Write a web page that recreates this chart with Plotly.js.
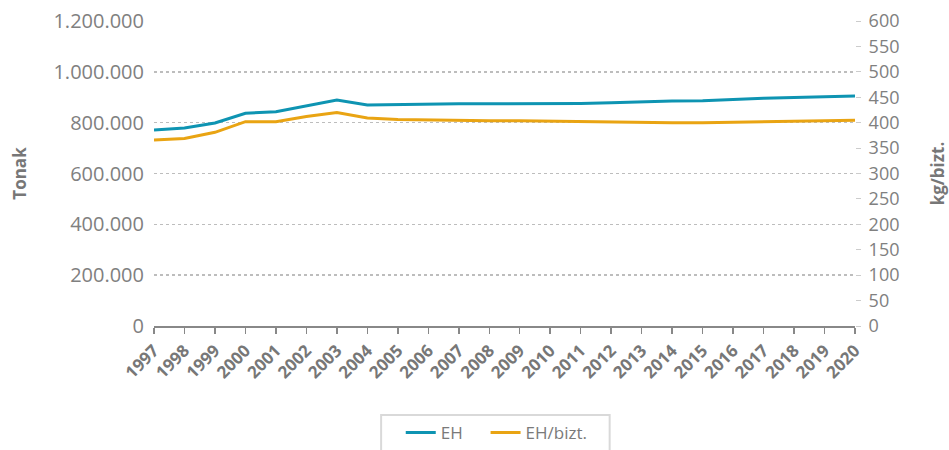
<!DOCTYPE html>
<html>
<head>
<meta charset="utf-8">
<script src="https://cdn.plot.ly/plotly-3.0.1.min.js"></script>
<style>html,body{margin:0;padding:0;background:#fff;}#chart{width:949px;height:450px;}</style>
</head>
<body>
<div id="chart"></div>
<script>
const years = [1997,1998,1999,2000,2001,2002,2003,2004,2005,2006,2007,2008,2009,2010,2011,2012,2013,2014,2015,2016,2017,2018,2019,2020];
const ehTonak = [771000,779000,799000,837000,843000,866000,889000,870000,872000,873000,874000,874000,874000,874000,875000,878000,882000,885000,886000,892000,896000,899000,902000,905000];
const ehBizt = [366,369,381,402,402,412,420,409,406,405,404,404,404,403,402,401,400,400,400,401,402,403,404,405];
const yearLabels = years.map(String);

const font = 'Open Sans, Noto Sans, sans-serif';
const traces = [
  {x: years, y: ehTonak, name: 'EH', type: 'scatter', mode: 'lines', yaxis: 'y', legend: 'legend',
   line: {color: '#0e94b2', width: 3}},
  {x: years, y: ehBizt, name: 'EH/bizt.', type: 'scatter', mode: 'lines', yaxis: 'y2', legend: 'legend2',
   line: {color: '#e9a413', width: 3}}
];
const legendStyle = {orientation: 'h', yanchor: 'top', y: -0.292, xanchor: 'left',
  borderwidth: 0, bgcolor: 'rgba(0,0,0,0)', font: {size: 17, color: '#7a7a7a'}, itemwidth: 30};
const layout = {
  width: 949, height: 450,
  margin: {l: 154, r: 94, t: 21, b: 124, autoexpand: false},
  paper_bgcolor: '#fff', plot_bgcolor: '#fff',
  separators: ',.',
  font: {family: font, color: '#7a7a7a'},
  showlegend: true,
  legend: Object.assign({}, legendStyle, {x: 0.352}),
  legend2: Object.assign({}, legendStyle, {x: 0.473}),
  shapes: [{type: 'rect', xref: 'paper', yref: 'paper', x0: 0.324, x1: 0.650, y0: -0.292, y1: -0.46,
    line: {color: '#d9d9d9', width: 2}, fillcolor: 'rgba(0,0,0,0)', layer: 'below'}],
  xaxis: {type: 'linear', range: [1997, 2020], tickvals: years, ticktext: yearLabels,
    automargin: false,
    tickangle: -45, tickfont: {size: 17, color: '#777', family: font, weight: 'bold'},
    showgrid: false, zeroline: false, showline: true, linecolor: '#888', linewidth: 2,
    ticks: 'outside', ticklen: 6, tickcolor: '#888', tickwidth: 1.5},
  yaxis: {range: [0, 1200000], dtick: 200000, tickformat: ',d', automargin: false,
    tickfont: {size: 20, color: '#808080'}, showgrid: true, gridcolor: '#bdbdbd',
    griddash: 'dot', gridwidth: 1.5, zeroline: false, ticks: '', ticklabelstandoff: 9,
    title: {text: 'Tonak', font: {size: 17, color: '#777', weight: 'bold'}, standoff: 22}},
  yaxis2: {range: [0, 600], dtick: 50, overlaying: 'y', side: 'right', automargin: false,
    tickfont: {size: 18, color: '#808080'}, showgrid: false, zeroline: false,
    ticks: 'outside', ticklen: 5, tickcolor: '#ccc', tickwidth: 1, ticklabelstandoff: 4,
    title: {text: 'kg/bizt.', font: {size: 17, color: '#777', weight: 'bold'}, standoff: 33}}
};
Plotly.newPlot('chart', traces, layout, {displayModeBar: false, staticPlot: true});
</script>
</body>
</html>
